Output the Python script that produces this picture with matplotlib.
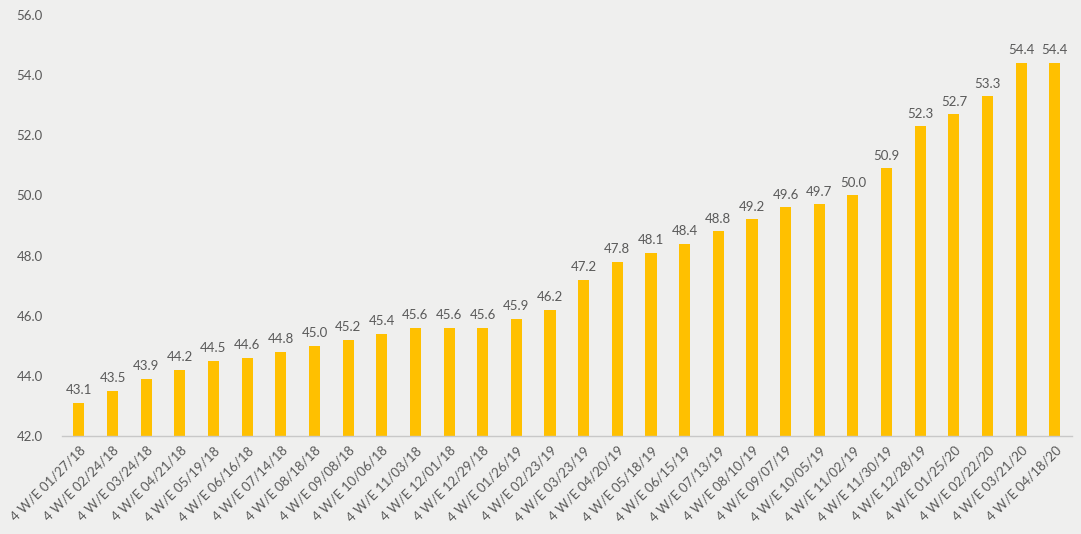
import matplotlib.pyplot as plt

periods = ['01/27/18', '02/24/18', '03/24/18', '04/21/18', '05/19/18', '06/16/18',
           '07/14/18', '08/18/18', '09/08/18', '10/06/18', '11/03/18', '12/01/18',
           '12/29/18', '01/26/19', '02/23/19', '03/23/19', '04/20/19', '05/18/19',
           '06/15/19', '07/13/19', '08/10/19', '09/07/19', '10/05/19', '11/02/19',
           '11/30/19', '12/28/19', '01/25/20', '02/22/20', '03/21/20', '04/18/20']
values = [43.1, 43.5, 43.9, 44.2, 44.5, 44.6, 44.8, 45.0, 45.2, 45.4,
          45.6, 45.6, 45.6, 45.9, 46.2, 47.2, 47.8, 48.1, 48.4, 48.8,
          49.2, 49.6, 49.7, 50.0, 50.9, 52.3, 52.7, 53.3, 54.4, 54.4]
y_ticks = [42, 44, 46, 48, 50, 52, 54, 56]

bg = '#efefee'
text_color = '#595959'
plt.rcParams['font.family'] = ['Lato', 'DejaVu Sans']

fig = plt.figure(figsize=(10.81, 5.34), dpi=100, facecolor=bg)
ax = fig.add_axes([0.0574, 0.1835, 0.934, 0.7885], facecolor=bg)

x = list(range(len(values)))
ax.bar(x, [v - 42 for v in values], bottom=42, width=0.33, color='#ffc000', zorder=2)

for xi, v in zip(x, values):
    ax.text(xi, v + 0.22, f'{v:.1f}', ha='center', va='bottom', fontsize=9.5, color=text_color)

ax.set_xlim(-0.5, len(values) - 0.5)
ax.set_ylim(42, 56)
ax.set_yticks(y_ticks)
ax.set_yticklabels([f'{t:.1f}' for t in y_ticks])
ax.set_xticks(x)
ax.set_xticklabels([f'4 W/E {p}' for p in periods], rotation=45, ha='right',
                   rotation_mode='anchor')
ax.tick_params(axis='both', length=0, labelsize=9.5, colors=text_color)
ax.tick_params(axis='y', pad=14)
ax.tick_params(axis='x', pad=6)

for side in ['top', 'right', 'left']:
    ax.spines[side].set_visible(False)
ax.spines['bottom'].set_color('#c8c8c8')
ax.spines['bottom'].set_linewidth(1.0)

fig.savefig('out.png', dpi=100, facecolor=bg)
